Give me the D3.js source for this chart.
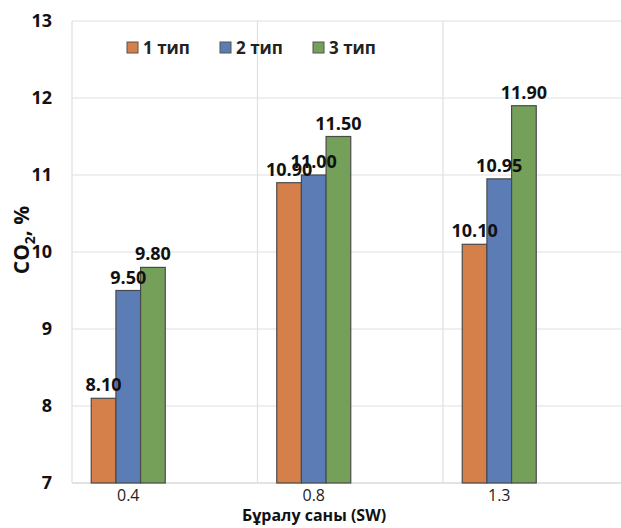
<!DOCTYPE html>
<html><head><meta charset="utf-8">
<script src="https://cdn.jsdelivr.net/npm/d3@7"></script>
<style>body{margin:0;background:#fff;} svg{display:block;}</style>
</head><body>
<svg id="c" width="621" height="528"></svg>
<script>
const categories = ["0.4", "0.8", "1.3"];
const seriesNames = ["1 тип", "2 тип", "3 тип"];
const type1 = [8.10, 10.90, 10.10];
const type2 = [9.50, 11.00, 10.95];
const type3 = [9.80, 11.50, 11.90];
const yTicks = [7, 8, 9, 10, 11, 12, 13];
const colors = ["#D5804A", "#5B7CB5", "#75A05A"];

const series = [type1, type2, type3];
const svg = d3.select("#c");
const font = "'Open Sans', 'Liberation Sans', sans-serif";
const plotL = 72, plotT = 21, plotB = 483, plotR = 621;

const y = d3.scaleLinear().domain([7, 13]).range([plotB, plotT]);
const x0 = d3.scaleBand().domain(categories).range([35.5, 592]).padding(0);
const x1 = d3.scaleBand().domain(seriesNames).range([-37, 37]).padding(0);

// horizontal gridlines
svg.append("g").selectAll("line").data(yTicks).join("line")
  .attr("x1", plotL).attr("x2", plotR)
  .attr("y1", d => y(d)).attr("y2", d => y(d))
  .attr("stroke", d => d === 7 ? "#c8c8c8" : "#e0e0e0").attr("stroke-width", 1.2);

// vertical gridlines
const vg = categories.map(c => x0(c) + 36.5);
svg.append("g").selectAll("line").data(vg).join("line")
  .attr("x1", d => d).attr("x2", d => d)
  .attr("y1", plotT).attr("y2", plotB)
  .attr("stroke", "#e0e0e0").attr("stroke-width", 1.2);

// y tick labels
svg.append("g").selectAll("text").data(yTicks).join("text")
  .attr("x", 52).attr("y", d => y(d)).attr("dy", "0.35em")
  .attr("text-anchor", "end").attr("font-family", font)
  .attr("font-weight", "bold").attr("font-size", 18).attr("fill", "#111")
  .text(d => d);

// x tick labels
svg.append("g").selectAll("text").data(categories).join("text")
  .attr("x", d => x0(d) + x0.bandwidth() / 2).attr("y", 501)
  .attr("text-anchor", "middle").attr("font-family", font)
  .attr("font-size", 16).attr("fill", "#222")
  .text(d => d);

// bars
const bars = [];
series.forEach((vals, si) => vals.forEach((v, ci) => bars.push({si, ci, v})));
const cx = d => x0(categories[d.ci]) + x0.bandwidth() / 2 + x1(seriesNames[d.si]);
svg.append("g").selectAll("rect").data(bars).join("rect")
  .attr("x", d => cx(d)).attr("y", d => y(d.v))
  .attr("width", x1.bandwidth()).attr("height", d => y(7) - y(d.v))
  .attr("fill", d => colors[d.si]).attr("stroke", "#4a4a4a").attr("stroke-width", 1.2);

// data labels
svg.append("g").selectAll("text").data(bars).join("text")
  .attr("x", d => cx(d) + x1.bandwidth() / 2).attr("y", d => y(d.v) - 7)
  .attr("text-anchor", "middle").attr("font-family", font)
  .attr("font-weight", "bold").attr("font-size", 18).attr("fill", "#111")
  .text(d => d.v.toFixed(2));

// legend
const legX = [127, 220, 313];
const lg = svg.append("g").selectAll("g").data(seriesNames).join("g")
  .attr("transform", (d, i) => `translate(${legX[i]},48)`);
lg.append("rect").attr("x", 0).attr("y", -6).attr("width", 11).attr("height", 11)
  .attr("fill", (d, i) => colors[i]).attr("stroke", "#555").attr("stroke-width", 1);
lg.append("text").attr("x", 16).attr("y", 0).attr("dy", "0.35em")
  .attr("font-family", font).attr("font-weight", "bold").attr("font-size", 17).attr("fill", "#222")
  .text(d => d);

// axis titles
svg.append("text").attr("x", 314).attr("y", 521).attr("text-anchor", "middle")
  .attr("font-family", font).attr("font-weight", "bold").attr("font-size", 16).attr("fill", "#111")
  .text("Бұралу саны (SW)");
const yt = svg.append("text").attr("transform", "translate(29,240) rotate(-90)")
  .attr("text-anchor", "middle").attr("font-family", font).attr("font-weight", "bold")
  .attr("font-size", 21).attr("fill", "#111");
yt.append("tspan").text("CO");
yt.append("tspan").attr("font-size", 14).attr("dy", 6).text("2");
yt.append("tspan").attr("dy", -6).text(", %");
</script>
</body></html>
